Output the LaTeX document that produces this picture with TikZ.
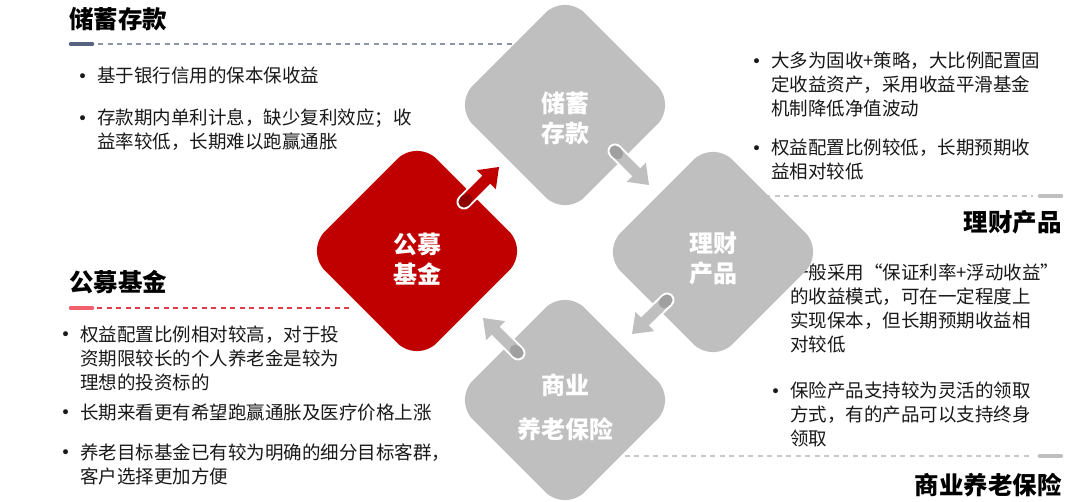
\documentclass[tikz,border=0pt]{standalone}
\usepackage{fontspec}
\usetikzlibrary{calc}
\newfontfamily\cjk{Noto Sans CJK SC}
\newfontfamily\symf{DejaVu Sans}
\definecolor{pred}{RGB}{192,0,0}
\definecolor{pdarkred}{RGB}{140,0,0}
\definecolor{pgray}{RGB}{191,191,191}
\definecolor{pdarkgray}{RGB}{160,160,160}
\definecolor{pslate}{RGB}{88,99,128}
\definecolor{pslatedash}{RGB}{140,150,170}
\definecolor{ppink}{RGB}{240,96,110}
\definecolor{preddash}{RGB}{222,60,70}
\definecolor{pgraydash}{RGB}{200,200,200}
\definecolor{ptext}{RGB}{25,25,25}
\newcommand{\blt}{\llap{{\symf\fontsize{17}{17}\selectfont\raisebox{0.5pt}{•}}\hspace{9.5pt}}}
\newcommand{\blockarr}[5]{%
  \coordinate (#1t) at #2;
  \coordinate (#1h) at #3;
  \coordinate (#1b) at ($(#1h)!18pt!(#1t)$);
  \draw[white, line width=15pt, line cap=round] (#1t) -- (#1b);
  \draw[#4, line width=11pt, line cap=round] (#1t) -- ($(#1b)!-1pt!(#1t)$);
  \draw[#5, line width=11pt, line cap=round] (#1t) -- ($(#1t)!4pt!(#1h)$);
  \fill[#4] (#1h) -- ($(#1b)!13.5pt!90:(#1h)$) -- ($(#1b)!13.5pt!-90:(#1h)$) -- cycle;
}
\tikzset{
  dia/.style={rectangle, rotate=45, minimum size=158pt, inner sep=0pt, rounded corners=28pt, draw=none},
  dtext/.style={font=\cjk\bfseries\fontsize{24}{30}\selectfont, text=white, inner sep=0pt, align=center},
  ttl/.style={font=\cjk\bfseries\fontsize{24.5}{28}\selectfont, inner sep=0pt, text=black},
  body/.style={font=\cjk\fontsize{18.5}{24}\selectfont, text=ptext, inner sep=0pt, anchor=base west, align=left, text width=460pt},
  solidrule/.style={line width=3.5pt, line cap=round},
  dashrule/.style={line width=2pt, dash pattern=on 5pt off 4.5pt},
}
\begin{document}
\begin{tikzpicture}[x=1pt,y=-1pt]
\useasboundingbox (0,0) rectangle (1080,502);
\fill[white] (0,0) rectangle (1080,502);

% title rules
\draw[solidrule, pslate] (70.5,44) -- (92.5,44);
\draw[dashrule, pslatedash] (98,44) -- (512,44);
\draw[solidrule, ppink] (70.5,308) -- (92.5,308);
\draw[dashrule, preddash] (97,308) -- (350,308);
\draw[dashrule, pgraydash] (765,196) -- (1033,196);
\draw[solidrule, pgray] (1039.5,196) -- (1061.5,196);
\draw[dashrule, pgraydash] (615,456) -- (1033,456);
\draw[solidrule, pgray] (1039.5,456) -- (1061.5,456);

% titles
\node[ttl, anchor=base west] (tS) at (69,28.3) {储蓄存款};
\node[ttl, anchor=base west] (tP) at (69,292) {公募基金};
\node[ttl, anchor=base east] (tF) at (1062,232) {理财产品};
\node[ttl, anchor=base east] (tI) at (1062,495) {商业养老保险};

% bullet texts
\node[body] (s1) at (97,83) {\blt 基于银行信用的保本保收益};
\node[body] (s2) at (97,125) {\blt 存款期内单利计息，缺少复利效应；收\\益率较低，长期难以跑赢通胀};

\node[body] (p1) at (80,341.5) {\blt 权益配置比例相对较高，对于投\\资期限较长的个人养老金是较为\\理想的投资标的};
\node[body] (p2) at (80,419.5) {\blt 长期来看更有希望跑赢通胀及医疗价格上涨};
\node[body] (p3) at (80,459.5) {\blt 养老目标基金已有较为明确的细分目标客群，\\客户选择更加方便};

\node[body] (f1) at (771,68) {\blt 大多为固收+策略，大比例配置固\\定收益资产，采用收益平滑基金\\机制降低净值波动};
\node[body] (f2) at (771,155) {\blt 权益配置比例较低，长期预期收\\益相对较低};

\node[body] (i1) at (790,280) {\blt 一般采用“保证利率+浮动收益”\\的收益模式，可在一定程度上\\实现保本，但长期预期收益相\\对较低};
\node[body] (i2) at (790,398) {\blt 保险产品支持较为灵活的领取\\方式，有的产品可以支持终身\\领取};

% diamonds
\node[dia, fill=pgray] (dS) at (565,105) {};
\node[dia, fill=pgray] (dF) at (713,252) {};
\node[dia, fill=pgray] (dI) at (565,400) {};
\node[dia, fill=pred] (dP) at (417,251) {};

\node[dtext] (xS) at (565,118) {储蓄\\存款};
\node[dtext] (xF) at (713,258.5) {理财\\产品};
\node[dtext] (xP) at (417,259.5) {公募\\基金};
\node[dtext, font=\cjk\bfseries\fontsize{24}{44}\selectfont] (xI) at (565,407) {商业\\养老保险};

% arrows
\blockarr{aP}{(464,202)}{(499,167)}{pred}{pdarkred}
\blockarr{aS}{(615,151)}{(649,185)}{pgray}{pdarkgray}
\blockarr{aF}{(667,300)}{(632,334)}{pgray}{pdarkgray}
\blockarr{aI}{(518,353)}{(483,318)}{pgray}{pdarkgray}
\end{tikzpicture}
\end{document}
